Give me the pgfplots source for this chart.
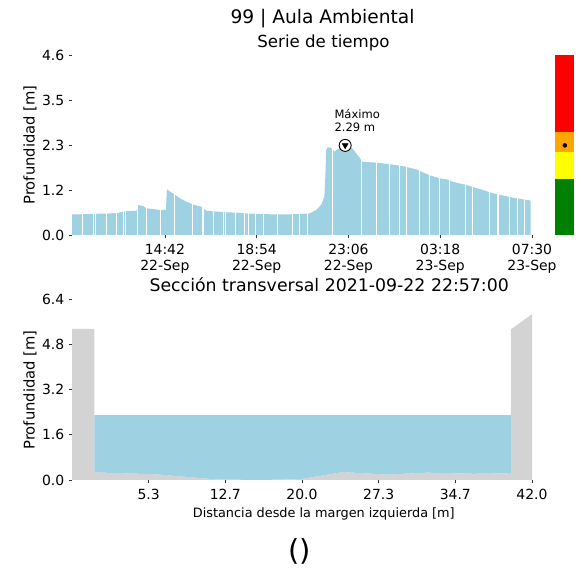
\documentclass[border=0pt]{standalone}
\usepackage{pgfplots}
\pgfplotsset{compat=1.18}
\usepackage{fontspec}
\setmainfont{DejaVu Sans}
\definecolor{lb}{RGB}{158,209,225}
\definecolor{lg}{RGB}{211,211,211}
\definecolor{cgreen}{RGB}{0,128,0}
\definecolor{cyellow}{RGB}{255,255,0}
\definecolor{corange}{RGB}{255,165,0}
\definecolor{cred}{RGB}{255,0,0}
\begin{document}
\begin{tikzpicture}[x=1bp,y=1bp]
\path[use as bounding box] (0,0) rectangle (581,577);
\pgfplotsset{
  myax/.style={scale only axis, axis x line*=bottom, axis y line*=left,
    x axis line style={draw=none}, y axis line style={draw=none},
    tick align=outside, major tick length=3.5bp,
    tick style={black!80, line width=0.6bp},
    ticklabel style={font=\fontsize{14}{16.7}\selectfont, text=black},
    xticklabel style={anchor=north, inner sep=0pt, yshift=-5bp},
    yticklabel style={anchor=east, inner sep=0pt, xshift=-4bp},
    clip=false}
}
% ---------- time series ----------
\begin{axis}[myax, at={(72bp,342bp)}, anchor=south west, width=460bp, height=180bp,
  xmin=10.45, xmax=31.5, ymin=0, ymax=4.6,
  xtick={14.7,18.9,23.1,27.3,31.5},
  xticklabels={{14:42\\22-Sep},{18:54\\22-Sep},{23:06\\22-Sep},{03:18\\23-Sep},{07:30\\23-Sep}},
  xticklabel style={align=center},
  ytick={0,1.15,2.3,3.45,4.6}, yticklabels={0.0,1.2,2.3,3.5,4.6}]
\addplot[fill=lb, draw=none] coordinates {
(10.46,0.53) (10.9,0.53) (11.5,0.54) (12.0,0.55) (12.5,0.56) (12.95,0.61) (13.40,0.62)
(13.46,0.77) (13.7,0.74) (13.86,0.68) (14.2,0.66) (14.47,0.64) (14.75,0.64) (14.79,1.17)
(14.9,1.12) (15.08,1.06) (15.38,0.94) (15.69,0.85) (15.99,0.78) (16.37,0.72) (16.6,0.62)
(17.0,0.60) (17.51,0.58) (18.0,0.57) (18.43,0.55) (19.03,0.54) (19.49,0.53) (20.5,0.53)
(21.32,0.55) (21.62,0.64) (21.85,0.77) (22.0,0.98) (22.05,1.6) (22.08,2.17) (22.15,2.24)
(22.25,2.24) (22.35,2.21) (22.46,2.13) (22.55,2.17) (22.69,2.21) (22.95,2.29) (23.10,2.26)
(23.28,2.21) (23.52,2.04) (23.75,1.87) (24.36,1.85) (24.97,1.81) (25.58,1.76) (26.19,1.68)
(26.8,1.53) (27.25,1.45) (27.71,1.41) (27.86,1.36) (28.47,1.28) (29.08,1.18) (29.69,1.07)
(30.07,1.02) (30.76,0.94) (31.44,0.88)} \closedcycle;
\addplot[ycomb, draw=white, line width=0.7bp, mark=none] coordinates {
(10.92,3) (11.42,3) (11.50,3) (12.03,3) (12.50,3) (12.79,3) (12.90,3) (13.43,3) (13.87,3)
(14.47,3) (15.15,3) (15.96,3) (16.93,3) (17.36,3) (17.48,3) (17.94,3) (18.35,3) (18.50,3)
(18.85,3) (19.22,3) (19.86,3) (20.54,3) (20.86,3) (21.23,3) (22.37,3) (23.68,3) (24.36,3)
(24.97,3) (25.43,3) (25.73,3) (26.34,3) (26.80,3) (27.25,3) (27.71,3) (28.47,3) (28.76,3)
(29.54,3) (30.45,3) (30.82,3) (31.14,3)};
\addplot[ycomb, draw=white, line width=2.2bp, mark=none] coordinates {(16.45,3) (29.93,3)};
\addplot[only marks, mark=*, mark size=6bp, mark options={fill=white, draw=black, line width=0.9bp}] coordinates {(22.95,2.29)};
\addplot[only marks, mark=triangle*, mark size=3.4bp, mark options={rotate=180, fill=black, draw=black}] coordinates {(22.95,2.29)};
\end{axis}
% ---------- colour bar ----------
\begin{axis}[scale only axis, hide axis, at={(555.3bp,342bp)}, anchor=south west, width=19bp, height=180bp,
  xmin=0, xmax=1, ymin=0, ymax=4.6, clip=false]
\addplot[fill=cgreen, draw=none] coordinates {(0,0) (1,0) (1,1.42) (0,1.42)} -- cycle;
\addplot[fill=cyellow, draw=none] coordinates {(0,1.42) (1,1.42) (1,2.11) (0,2.11)} -- cycle;
\addplot[fill=corange, draw=none] coordinates {(0,2.11) (1,2.11) (1,2.62) (0,2.62)} -- cycle;
\addplot[fill=cred, draw=none] coordinates {(0,2.62) (1,2.62) (1,4.6) (0,4.6)} -- cycle;
\addplot[only marks, mark=*, mark size=2bp, black] coordinates {(0.5,2.29)};
\end{axis}
% ---------- cross section ----------
\begin{axis}[myax, at={(72bp,97bp)}, anchor=south west, width=460bp, height=181bp,
  xmin=-2, xmax=42, ymin=0, ymax=6.4,
  xtick={5.3333,12.6667,20,27.3333,34.6667,42},
  xticklabels={5.3,12.7,20.0,27.3,34.7,42.0},
  ytick={0,1.6,3.2,4.8,6.4}, yticklabels={0.0,1.6,3.2,4.8,6.4}]
\addplot[fill=lg, draw=none] coordinates {(-2,0) (-2,5.34) (0.13,5.34) (0.13,0.27) (6.10,0.20)
 (11.84,0.02) (15.98,0.0) (19.81,0.03) (23.95,0.28) (28.10,0.19) (31.93,0.26) (36.39,0.22)
 (39.99,0.24) (39.99,5.33) (42,5.86) (42,0)} -- cycle;
\addplot[fill=lb, draw=none] coordinates {(0.13,2.29) (39.99,2.29) (39.99,0.24) (36.39,0.22)
 (31.93,0.26) (28.10,0.19) (23.95,0.28) (19.81,0.03) (15.98,0.0) (11.84,0.02) (6.10,0.20)
 (0.13,0.27)} -- cycle;
\end{axis}
% ---------- texts ----------
\node[anchor=base, font=\fontsize{18.7}{21}\selectfont] at (322.5,553) {99 | Aula Ambiental};
\node[anchor=base, font=\fontsize{16.7}{19}\selectfont] at (323.5,529.3) {Serie de tiempo};
\node[anchor=base west, font=\fontsize{11.6}{13}\selectfont] at (331,458) {Máximo};
\node[anchor=base west, font=\fontsize{11.6}{13}\selectfont] at (331,445.3) {2.29 m};
\node[rotate=90, font=\fontsize{14.8}{17}\selectfont] at (30,432) {Profundidad [m]};
\node[anchor=base, font=\fontsize{17.4}{19}\selectfont] at (329.2,285.3) {Sección transversal 2021-09-22 22:57:00};
\node[rotate=90, font=\fontsize{14.8}{17}\selectfont] at (30,187) {Profundidad [m]};
\node[anchor=base, font=\fontsize{12.9}{15}\selectfont] at (323.8,59.3) {Distancia desde la margen izquierda [m]};
\node[font=\fontsize{29}{32}\selectfont] at (299.5,25.3) {()};
\end{tikzpicture}
\end{document}
